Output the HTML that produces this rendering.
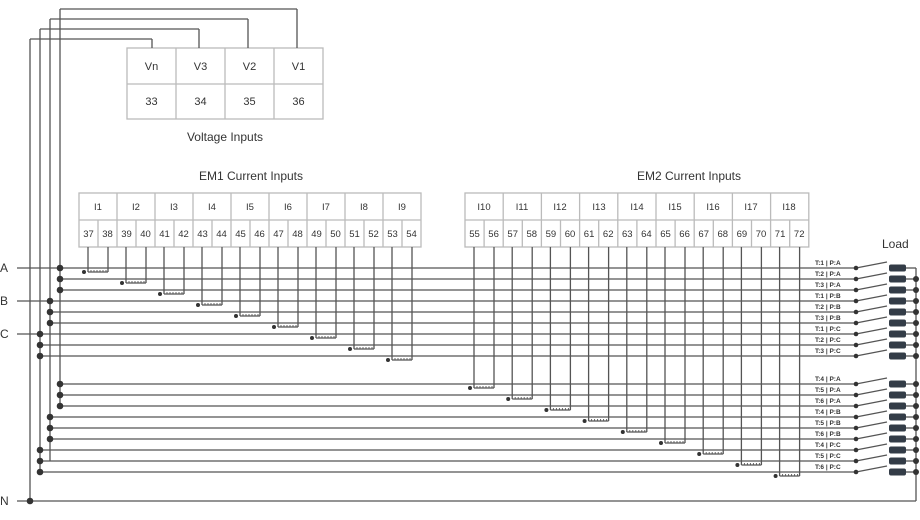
<!DOCTYPE html>
<html><head><meta charset="utf-8"><style>
body{margin:0;background:#fff}
svg{display:block;font-family:"Liberation Sans",sans-serif}
.h{font-size:11px;fill:#333;text-anchor:middle}
.p{font-size:9.5px;fill:#333;text-anchor:middle}
.t{font-size:12px;fill:#333;text-anchor:middle}
.l{font-size:6.5px;fill:#333;font-weight:bold}
.s{font-size:12px;fill:#333}
</style></head><body>
<svg id="s" width="920" height="520" viewBox="0 0 920 520" xmlns="http://www.w3.org/2000/svg">
<g id="g" stroke="#555" stroke-width="1.3" fill="none"></g>
<g id="d" fill="#333"></g>
<text class="h" x="151.5" y="70">Vn</text><text class="h" x="200.5" y="70">V3</text><text class="h" x="249.5" y="70">V2</text><text class="h" x="298.5" y="70">V1</text>
<text class="h" x="151.5" y="105">33</text><text class="h" x="200.5" y="105">34</text><text class="h" x="249.5" y="105">35</text><text class="h" x="298.5" y="105">36</text>
<text class="t" x="225" y="141">Voltage Inputs</text>
<text class="t" x="251" y="180">EM1 Current Inputs</text>
<text class="t" x="689" y="180">EM2 Current Inputs</text>
<text class="p" x="98" y="210">I1</text><text class="p" x="136" y="210">I2</text><text class="p" x="174" y="210">I3</text><text class="p" x="212" y="210">I4</text><text class="p" x="250" y="210">I5</text><text class="p" x="288" y="210">I6</text><text class="p" x="326" y="210">I7</text><text class="p" x="364" y="210">I8</text><text class="p" x="402" y="210">I9</text>
<text class="p" x="484" y="210">I10</text><text class="p" x="522" y="210">I11</text><text class="p" x="560" y="210">I12</text><text class="p" x="599" y="210">I13</text><text class="p" x="637" y="210">I14</text><text class="p" x="675" y="210">I15</text><text class="p" x="713" y="210">I16</text><text class="p" x="751" y="210">I17</text><text class="p" x="789" y="210">I18</text>
<g class="p">
<text x="88.5" y="237">37</text><text x="107.5" y="237">38</text><text x="126.5" y="237">39</text><text x="145.5" y="237">40</text><text x="164.5" y="237">41</text><text x="183.5" y="237">42</text><text x="202.5" y="237">43</text><text x="221.5" y="237">44</text><text x="240.5" y="237">45</text><text x="259.5" y="237">46</text><text x="278.5" y="237">47</text><text x="297.5" y="237">48</text><text x="316.5" y="237">49</text><text x="335.5" y="237">50</text><text x="354.5" y="237">51</text><text x="373.5" y="237">52</text><text x="392.5" y="237">53</text><text x="411.5" y="237">54</text>
<text x="474.5" y="237">55</text><text x="493.6" y="237">56</text><text x="512.7" y="237">57</text><text x="531.8" y="237">58</text><text x="550.9" y="237">59</text><text x="570" y="237">60</text><text x="589.1" y="237">61</text><text x="608.2" y="237">62</text><text x="627.3" y="237">63</text><text x="646.4" y="237">64</text><text x="665.5" y="237">65</text><text x="684.6" y="237">66</text><text x="703.7" y="237">67</text><text x="722.8" y="237">68</text><text x="741.9" y="237">69</text><text x="761" y="237">70</text><text x="780.1" y="237">71</text><text x="799.2" y="237">72</text>
</g>
<g class="l">
<text x="815" y="265">T:1 | P:A</text><text x="815" y="276">T:2 | P:A</text><text x="815" y="287">T:3 | P:A</text><text x="815" y="298">T:1 | P:B</text><text x="815" y="309">T:2 | P:B</text><text x="815" y="320">T:3 | P:B</text><text x="815" y="331">T:1 | P:C</text><text x="815" y="342">T:2 | P:C</text><text x="815" y="353">T:3 | P:C</text>
<text x="815" y="381">T:4 | P:A</text><text x="815" y="392">T:5 | P:A</text><text x="815" y="403">T:6 | P:A</text><text x="815" y="414">T:4 | P:B</text><text x="815" y="425">T:5 | P:B</text><text x="815" y="436">T:6 | P:B</text><text x="815" y="447">T:4 | P:C</text><text x="815" y="458">T:5 | P:C</text><text x="815" y="469">T:6 | P:C</text>
</g>
<text class="s" x="882" y="248">Load</text>
<text class="s" x="0" y="272">A</text><text class="s" x="0" y="305">B</text><text class="s" x="0" y="338">C</text><text class="s" x="0" y="505">N</text>
</svg>
<script>
var g=document.getElementById('g'),d=document.getElementById('d'),NS='http://www.w3.org/2000/svg';
function el(p,t,a){var e=document.createElementNS(NS,t);for(var k in a)e.setAttribute(k,a[k]);p.appendChild(e);return e}
function L(x1,y1,x2,y2,c,w){el(g,'line',{x1:x1,y1:y1,x2:x2,y2:y2,stroke:c||'#555','stroke-width':w||1.3})}
function C(x,y,r){el(d,'circle',{cx:x,cy:y,r:r})}
// voltage box
el(g,'rect',{x:127,y:48,width:196,height:71,stroke:'#bbb'});
L(127,84,323,84,'#bbb');[176,225,274].forEach(x=>L(x,48,x,119,'#bbb'));
// top wires
[[60,9,297],[50,19,248],[40,29,199],[30,39,152]].forEach(a=>{L(a[0],a[1],a[2],a[1]);L(a[2],a[1],a[2],48)});
L(60,9,60,406);L(50,19,50,461);L(40,29,40,473);L(30,39,30,501);
// current boxes
function box(x0,w){el(g,'rect',{x:x0,y:193,width:w*9,height:54,stroke:'#bbb'});L(x0,220,x0+w*9,220,'#bbb');
for(var i=0;i<9;i++){if(i)L(x0+w*i,193,x0+w*i,247,'#bbb');L(x0+w*i+w/2,220,x0+w*i+w/2,247,'#bbb')}}
box(79,38);box(465,38.2);
// rows
var buses=[60,60,60,50,50,50,40,40,40];
function rows(base,first){for(var k=0;k<9;k++){var y=base+11*k,x0=(first&&k%3==0)?17:buses[k];
L(x0,y,856,y);C(buses[k],y,3.3);C(856,y,2.3);L(856,y,887,y-6,'#555',1.2);
el(d,'rect',{x:889,y:y-3.5,width:17,height:7,rx:2,fill:'#333c47'});L(906,y,916,y);
if(!(first&&k==0))C(916,y,3);}}
rows(268,true);rows(384,false);
L(916,268,916,501);L(17,501,916,501);C(30,501,3.3);
// CTs
function ct(x0,w,base){for(var i=0;i<9;i++){var a=x0+w*i+9,b=x0+w*i+29,yb=base+11*i+4;
L(a,247,a,yb);L(b,247,b,yb);L(a,yb,b,yb);for(var t=a+3;t<b;t+=3)L(t,yb,t,yb-2,'#555',0.9);C(a-4,yb,2);}}
ct(79,38,268);ct(465,38.2,384);
</script>
</body></html>
